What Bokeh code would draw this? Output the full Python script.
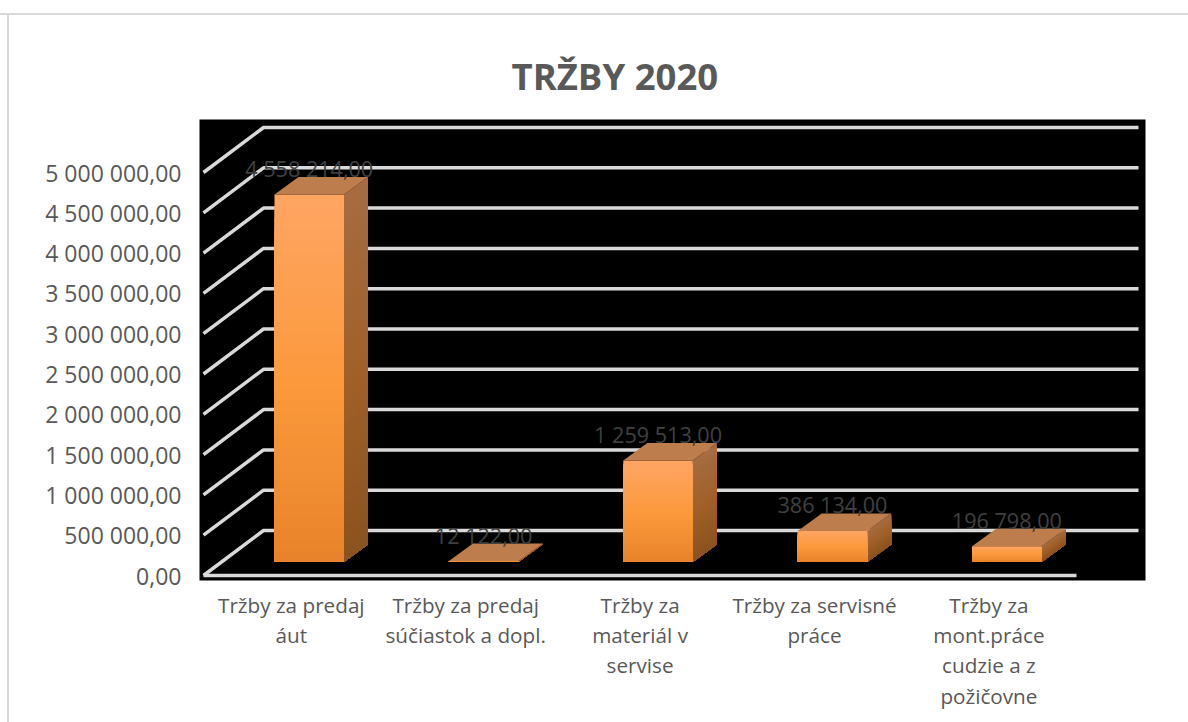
from bokeh.plotting import figure
from bokeh.models import FixedTicker, Range1d
from bokeh.core.properties import value
from bokeh.embed import file_html
from bokeh.resources import INLINE

# ---- data ----
title_text = "TRŽBY 2020"
categories = ["Tržby za predaj\náut", "Tržby za predaj\nsúčiastok a dopl.", "Tržby za\nmateriál v\nservise",
              "Tržby za servisné\npráce", "Tržby za\nmont.práce\ncudzie a z\npožičovne"]
sales = [4558214, 12122, 1259513, 386134, 196798]
sales_labels = ["4 558 214,00", "12 122,00", "1 259 513,00", "386 134,00", "196 798,00"]
y_ticks = [0, 500000, 1000000, 1500000, 2000000, 2500000, 3000000, 3500000, 4000000, 4500000, 5000000]
y_tick_labels = ["0,00", "500 000,00", "1 000 000,00", "1 500 000,00", "2 000 000,00", "2 500 000,00",
                 "3 000 000,00", "3 500 000,00", "4 000 000,00", "4 500 000,00", "5 000 000,00"]

# ---- geometry helpers (pixels -> data) ----
FONT = "Open Sans"
L, R, T, B = 199, 1145, 119, 580      # frame in page pixels
Y0 = 575                              # page pixel of value 0 on the front plane
PX_PER_VAL = 40.3 / 500000
PX_PER_X = 174.4
X0 = 290.8                            # page pixel of category 0 label

def px(pxval):
    return (pxval - X0) / PX_PER_X
def val(pxval):
    return (Y0 - pxval) / PX_PER_VAL
def dv(dpx):
    return dpx / PX_PER_VAL
def dx(dpx):
    return dpx / PX_PER_X

p = figure(width=1188, height=722, output_backend="svg", toolbar_location=None,
           x_range=Range1d(px(L), px(R)), y_range=Range1d(val(B), val(T)),
           min_border_left=L, min_border_right=1188 - R, min_border_top=T, min_border_bottom=722 - B,
           background_fill_color="black", border_fill_color="white", border_fill_alpha=0,
           outline_line_color=None)
p.grid.visible = False
# outer chart border: top and left edges only
p.styles = {"background":
            "linear-gradient(#d9d9d9,#d9d9d9) 0px 13px/1188px 2px no-repeat,"
            "linear-gradient(#d9d9d9,#d9d9d9) 7px 13px/2px 709px no-repeat"}

# title
p.title.text = title_text
p.title.align = "left"
p.title.offset = 312
p.title.text_font = FONT
p.title.text_font_size = "36.5px"
p.title.text_font_style = "bold"
p.title.text_color = "#595959"
p.title.standoff = 37

# axes
ya = p.yaxis[0]
ya.ticker = FixedTicker(ticks=y_ticks)
ya.major_label_overrides = dict(zip(y_ticks, y_tick_labels))
ya.axis_line_color = None
ya.major_tick_line_color = None
ya.minor_tick_line_color = None
ya.major_label_standoff = 12
ya.major_label_text_font = FONT
ya.major_label_text_font_size = "23px"
ya.major_label_text_color = "#595959"

xa = p.xaxis[0]
xa.ticker = FixedTicker(ticks=list(range(len(categories))))
xa.major_label_overrides = dict(enumerate(categories))
xa.axis_line_color = None
xa.major_tick_line_color = None
xa.minor_tick_line_color = None
xa.major_label_standoff = 4
xa.major_label_text_font = FONT
xa.major_label_text_font_size = "20.7px"
xa.major_label_text_color = "#595959"
xa.major_label_text_line_height = 1.087

# wall / floor grid
GRID = "#d9d9d9"
WALL_DX, WALL_DY = 60, 45
left_x, back_right = px(203), px(1138)
for t in y_ticks:
    p.line([left_x, left_x + dx(WALL_DX), back_right], [t, t + dv(WALL_DY), t + dv(WALL_DY)],
           line_color=GRID, line_width=3.5)
p.line([left_x, px(1076)], [0, 0], line_color=GRID, line_width=3.5)

# 3-D bars
BAR_W, D_X, D_Y = 69.5, 24, 17.5
BASE = val(561.5)
FIRST = 274

def lerp(stops, t):
    for (a, ca), (b, cb) in zip(stops, stops[1:]):
        if t <= b:
            u = (t - a) / (b - a)
            return "#%02x%02x%02x" % tuple(round(x + (y - x) * u) for x, y in zip(ca, cb))
    return "#%02x%02x%02x" % stops[-1][1]

FRONT = [(0, (254, 165, 98)), (0.5, (251, 153, 60)), (1, (232, 130, 42))]
SIDE = [(0, (166, 108, 64)), (0.5, (160, 96, 40)), (1, (138, 82, 30))]
TOP_C = "#bd7d4c"
STEPS = 32

for i, v in enumerate(sales):
    x0 = px(FIRST + i * 174.4)
    x1 = x0 + dx(BAR_W)
    xb = x1 + dx(D_X)
    up = dv(D_Y)
    top = BASE + v
    # side and front: painted top first, each slice reaching down to the base so no seams show
    for s in range(STEPS):
        t = s / STEPS
        yy = top - v * t
        p.patch([x1, xb, xb, x1], [yy, yy + up, BASE + up, BASE], fill_color=lerp(SIDE, t), line_color=None)
    for s in range(STEPS):
        t = s / STEPS
        yy = top - v * t
        p.quad(left=x0, right=x1, top=yy, bottom=BASE, fill_color=lerp(FRONT, t), line_color=None)
    p.patch([x0, x1, xb, x0 + dx(D_X)], [top, top, top + up, top + up], fill_color=TOP_C, line_color=None)
    p.text([(x0 + x1) / 2], [top], text=[sales_labels[i]], y_offset=-26, text_align="center",
           text_baseline="middle", text_font=value(FONT), text_font_size="21.6px", text_color="#404040")

open("out.html", "w").write(file_html(p, INLINE))
